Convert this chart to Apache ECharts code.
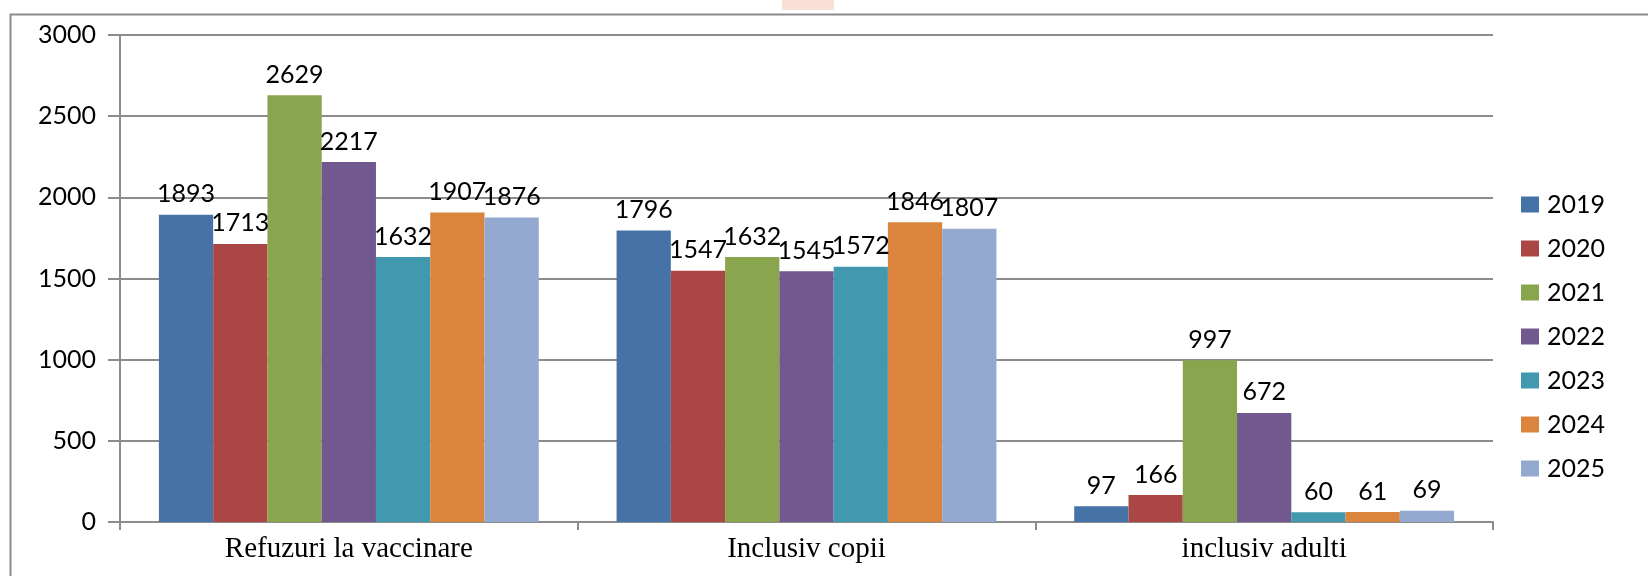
<!DOCTYPE html>
<html>
<head>
<meta charset="utf-8">
<script src="https://cdn.jsdelivr.net/npm/echarts@6/dist/echarts.min.js"></script>
<style>
html, body { margin: 0; padding: 0; background: #fff; }
#main { width: 1648px; height: 576px; }
</style>
</head>
<body>
<div id="main"></div>
<script>
var categories = ['Refuzuri la vaccinare', 'Inclusiv copii', 'inclusiv adulti'];
var years = ['2019', '2020', '2021', '2022', '2023', '2024', '2025'];
var v2019 = [1893, 1796, 97];
var v2020 = [1713, 1547, 166];
var v2021 = [2629, 1632, 997];
var v2022 = [2217, 1545, 672];
var v2023 = [1632, 1572, 60];
var v2024 = [1907, 1846, 61];
var v2025 = [1876, 1807, 69];
var yTicks = [0, 500, 1000, 1500, 2000, 2500, 3000];

var values = [v2019, v2020, v2021, v2022, v2023, v2024, v2025];
var colors = ['#4572A7', '#AA4643', '#89A54E', '#71588F', '#4198AF', '#DB843D', '#93A9CF'];

var myChart = echarts.init(document.getElementById('main'));

var series = years.map(function (y, i) {
    return {
        name: y,
        type: 'bar',
        barGap: 0,
        barCategoryGap: '17%',
        data: values[i],
        itemStyle: { color: colors[i] },
        label: {
            show: true,
            position: 'top',
            distance: 8,
            color: '#000',
            fontFamily: 'Lato',
            fontSize: 25
        }
    };
});

var option = {
    backgroundColor: '#fff',
    animation: false,
    grid: { left: 120, top: 35, right: 155, bottom: 54 },
    legend: {
        orient: 'vertical',
        left: 1516,
        top: 187,
        itemWidth: 18,
        itemHeight: 16,
        itemGap: 19,
        icon: 'rect',
        textStyle: { fontFamily: 'Lato', fontSize: 25, color: '#000', padding: [0, 0, 0, 3] },
        data: years
    },
    xAxis: {
        type: 'category',
        data: categories,
        axisLine: { lineStyle: { color: '#8c8c8c', width: 2 } },
        axisTick: { show: true, length: 8, lineStyle: { color: '#8c8c8c', width: 2 } },
        axisLabel: { fontFamily: 'Liberation Serif', fontSize: 29, color: '#000', margin: 13 }
    },
    yAxis: {
        type: 'value',
        min: yTicks[0],
        max: yTicks[yTicks.length - 1],
        interval: 500,
        axisLine: { show: true, lineStyle: { color: '#8c8c8c', width: 2 } },
        axisTick: { show: true, length: 12, lineStyle: { color: '#8c8c8c', width: 2 } },
        splitLine: { lineStyle: { color: '#8c8c8c', width: 2 } },
        axisLabel: {
            fontFamily: 'Lato', fontSize: 25, color: '#000', margin: 24,
            formatter: function (v) { return String(v); }
        }
    },
    graphic: [
        { type: 'rect', left: 8, top: 12, shape: { width: 1700, height: 700 },
          style: { fill: 'none', stroke: '#8c8c8c', lineWidth: 2 }, silent: true },
        { type: 'rect', left: 782, top: 0, shape: { width: 52, height: 10 },
          style: { fill: '#fae0d6' }, silent: true }
    ],
    series: series
};
myChart.setOption(option);
</script>
</body>
</html>
